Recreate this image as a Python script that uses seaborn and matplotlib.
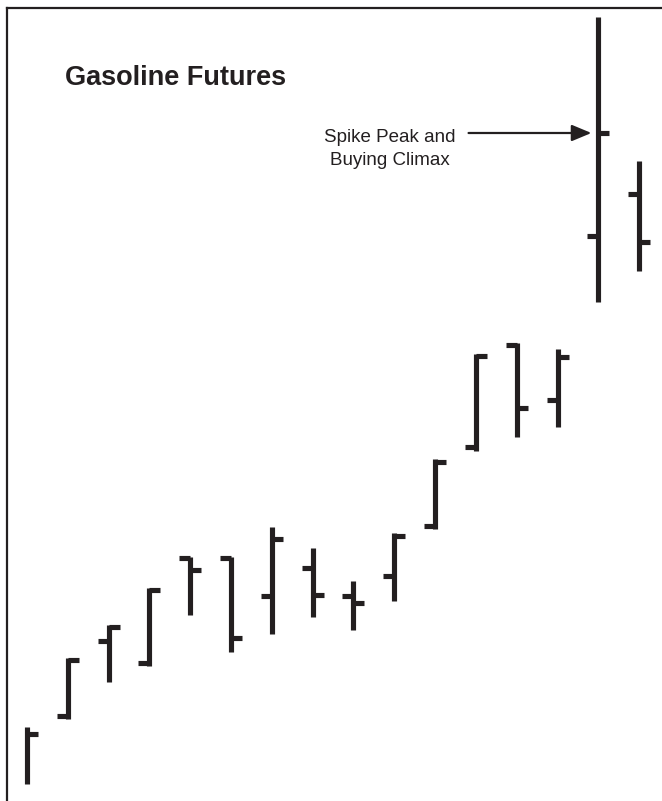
import seaborn as sns
import matplotlib.pyplot as plt
import numpy as np
import pandas as pd

# daily bars, price in cents
bar = list(range(16))
high_px = [67.4, 74.3, 77.6, 81.3, 84.4, 84.4, 87.4, 85.3, 82.0, 86.8, 94.2, 104.7, 105.8, 105.2, 138.4, 124.0]
low_px = [61.7, 68.2, 71.9, 73.5, 78.6, 74.9, 76.7, 78.4, 77.1, 80.0, 87.2, 95.0, 96.4, 97.4, 109.9, 113.0]
open_px = [np.nan, 68.5, 76.0, 73.8, 84.3, 84.3, 80.5, 83.3, 80.5, 82.5, 87.5, 95.4, 105.6, 100.1, 116.5, 120.7]
close_px = [66.7, 74.1, 77.4, 81.1, 83.1, 76.3, 86.2, 80.6, 79.8, 86.5, 93.9, 104.5, 99.3, 104.4, 126.8, 115.9]

ink = '#231f20'
tick = 0.27

# build segments for lineplot (one unit per segment)
rows = []
for i in bar:
    rows.append(['hl%d' % i, i, low_px[i]])
    rows.append(['hl%d' % i, i, high_px[i]])
    if not np.isnan(open_px[i]):
        rows.append(['o%d' % i, i - tick, open_px[i]])
        rows.append(['o%d' % i, i, open_px[i]])
    rows.append(['c%d' % i, i, close_px[i]])
    rows.append(['c%d' % i, i + tick, close_px[i]])
df = pd.DataFrame(rows, columns=['seg', 'x', 'price'])

sns.set_style('white')
fig = plt.figure(figsize=(6.62, 8.01), dpi=100)
ax = fig.add_axes([7 / 662, 0, 1 - 7 / 662, 1 - 8 / 801])

sns.lineplot(data=df, x='x', y='price', units='seg', estimator=None, sort=False,
             color=ink, lw=3.7, solid_capstyle='butt', ax=ax)

ax.set_xlim(-0.49, 15.56)
ax.set_ylim(60, 139.3)
ax.set_xticks([])
ax.set_yticks([])
ax.set_xlabel('')
ax.set_ylabel('')
for s in ['right', 'bottom']:
    ax.spines[s].set_visible(False)
for s in ['top', 'left']:
    ax.spines[s].set_color(ink)
    ax.spines[s].set_linewidth(1.6)

ax.text(0.93, 131.6, 'Gasoline Futures', fontsize=19.5, fontweight='bold',
        family='Liberation Sans', color=ink, va='baseline', ha='left')

ax.text(8.9, 125.9, 'Spike Peak and', fontsize=13.5,
        family='Liberation Sans', color=ink, ha='center', va='baseline')
ax.text(8.9, 123.6, 'Buying Climax', fontsize=13.5,
        family='Liberation Sans', color=ink, ha='center', va='baseline')
ax.annotate('', xy=(14 - 0.17, close_px[14]), xytext=(10.82, close_px[14]),
            arrowprops=dict(arrowstyle='-|>,head_length=1.2,head_width=0.5',
                            color=ink, lw=1.6, shrinkA=0, shrinkB=0))

fig.savefig('out.png', dpi=100)
